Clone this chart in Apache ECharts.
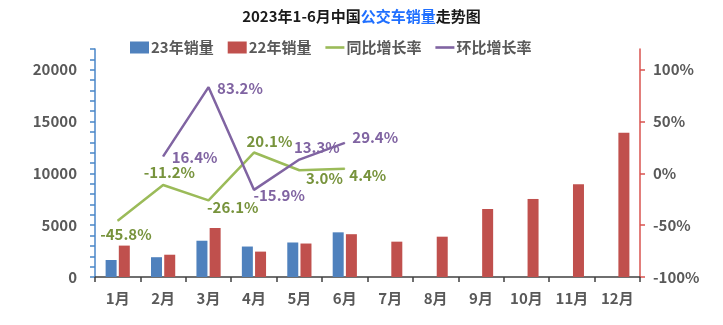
<!DOCTYPE html>
<html><head><meta charset="utf-8">
<script src="https://cdn.jsdelivr.net/npm/echarts@6/dist/echarts.min.js"></script>
<style>html,body{margin:0;padding:0;background:#fff}#c{width:723px;height:325px}</style>
</head><body><div id="c"></div>
<script>
const months = ['1月','2月','3月','4月','5月','6月','7月','8月','9月','10月','11月','12月'];
const sales23 = [1640, 1910, 3500, 2940, 3330, 4310, null, null, null, null, null, null];
const sales22 = [3030, 2150, 4730, 2450, 3230, 4130, 3410, 3890, 6560, 7530, 8950, 13930];
const yoy = [-45.8, -11.2, -26.1, 20.1, 3.0, 4.4];
const mom = [null, 16.4, 83.2, -15.9, 13.3, 29.4];
const leftLabels = [0, 5000, 10000, 15000, 20000];
const rightLabels = [-100, -50, 0, 50, 100];

const yoyOffsets = [[-18,13],[-20,-13],[-2,7],[-8,-11],[6,8],[4,6]];
const momOffsets = [null,[8,1],[8,1.5],[-1,5],[-6,-12],[7,-6]];

const FONT = '"Noto Sans CJK SC", "Noto Sans", sans-serif';
const GRAY = '#595959';
const LINE_ICON = 'path://M0,0H40V5.5H0Z';

function mkData(vals, offs, color) {
  return vals.map((v, i) => v == null ? null : {
    value: v,
    label: { show: true, position: 'right', distance: 0, offset: offs[i],
      formatter: (p) => p.value.toFixed(1) + '%', color: color,
      fontFamily: FONT, fontWeight: 'bold', fontSize: 15 }
  });
}

const chart = echarts.init(document.getElementById('c'), null, {renderer: 'canvas'});
chart.setOption({
  backgroundColor: '#fff',
  animation: false,
  title: {
    left: 'center', top: 4,
    text: '{a|2023年1-6月中国}{b|公交车销量}{a|走势图}',
    textStyle: { rich: {
      a: { fontFamily: FONT, fontWeight: 'bold', fontSize: 15, color: '#1a1a1a' },
      b: { fontFamily: FONT, fontWeight: 'bold', fontSize: 15, color: '#1f6fff' }
    } }
  },
  legend: {
    left: 130, top: 40, padding: 0, itemWidth: 19, itemHeight: 12, itemGap: 14,
    textStyle: { fontFamily: FONT, fontWeight: 'bold', fontSize: 15, color: GRAY, padding: [0,0,0,-3] },
    data: [
      { name: '23年销量', icon: 'rect' },
      { name: '22年销量', icon: 'rect' },
      { name: '同比增长率', icon: LINE_ICON, itemStyle: { color: '#9bbb59' } },
      { name: '环比增长率', icon: LINE_ICON, itemStyle: { color: '#8064a2' } }
    ]
  },
  grid: { left: 95, right: 83, top: 49, bottom: 48 },
  xAxis: {
    type: 'category', data: months,
    axisLine: { lineStyle: { color: '#404040', width: 1.5 } },
    axisTick: { show: true, length: 5, lineStyle: { color: '#404040', width: 1.5 } },
    axisLabel: { margin: 14, fontFamily: FONT, fontWeight: 'bold', fontSize: 15, color: GRAY }
  },
  yAxis: [
    {
      type: 'value', min: 0, max: 22000, interval: 1000,
      splitLine: { show: false },
      axisLine: { show: true, lineStyle: { color: '#4a86c8', width: 1.5 } },
      axisTick: { show: true, length: 5, lineStyle: { color: '#4a86c8', width: 1.5 } },
      axisLabel: { margin: 18, fontFamily: FONT, fontWeight: 'bold', fontSize: 15, color: GRAY,
        formatter: (v) => leftLabels.indexOf(v) >= 0 ? String(v) : '' }
    },
    {
      type: 'value', min: -100, max: 120, interval: 50, position: 'right',
      splitLine: { show: false },
      axisLine: { show: true, lineStyle: { color: '#d9534f', width: 1.5 } },
      axisTick: { show: true, length: 5, customValues: rightLabels, lineStyle: { color: '#d9534f', width: 1.5 } },
      axisLabel: { margin: 13, fontFamily: FONT, fontWeight: 'bold', fontSize: 15, color: GRAY,
        customValues: rightLabels, formatter: (v) => v + '%' }
    }
  ],
  series: [
    { name: '23年销量', type: 'bar', data: sales23, barWidth: 11, barGap: '20%',
      itemStyle: { color: '#4f81bd' } },
    { name: '22年销量', type: 'bar', data: sales22, barWidth: 11,
      itemStyle: { color: '#c0504d' } },
    { name: '同比增长率', type: 'line', yAxisIndex: 1, data: mkData(yoy, yoyOffsets, '#77933c'),
      symbol: 'circle', symbolSize: 1, showSymbol: true,
      lineStyle: { color: '#9bbb59', width: 2.5 }, itemStyle: { color: '#9bbb59' } },
    { name: '环比增长率', type: 'line', yAxisIndex: 1, data: mkData(mom, momOffsets, '#8064a2'),
      symbol: 'circle', symbolSize: 1, showSymbol: true,
      lineStyle: { color: '#8064a2', width: 2.5 }, itemStyle: { color: '#8064a2' } }
  ]
});
</script>
</body></html>
